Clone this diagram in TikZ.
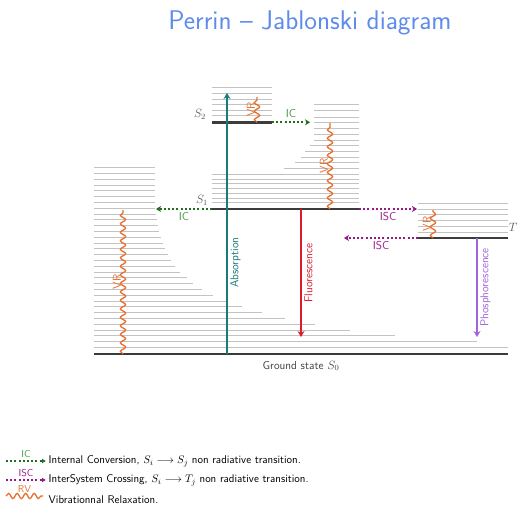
\documentclass[tikz,border=0pt]{standalone}
\usepackage{fontspec}
\usetikzlibrary{arrows.meta,decorations.pathmorphing}

\definecolor{levelgray}{RGB}{60,60,60}
\definecolor{subgray}{RGB}{195,195,195}
\definecolor{labelgray}{RGB}{85,85,85}
\definecolor{absorbcol}{RGB}{25,122,122}
\definecolor{fluocol}{RGB}{218,28,44}
\definecolor{phoscol}{RGB}{160,100,220}
\definecolor{icarrow}{RGB}{30,110,30}
\definecolor{iclabel}{RGB}{70,150,70}
\definecolor{isccol}{RGB}{150,25,135}
\definecolor{vrcol}{RGB}{230,110,45}
\definecolor{titleblue}{RGB}{95,140,235}

\begin{document}
\begin{tikzpicture}[x=1pt,y=-1pt,
  every node/.style={font=\sffamily\fontsize{11.5}{13}\selectfont, inner sep=1.5pt},
  lvl/.style={draw=levelgray, line width=2.6pt},
  sublvl/.style={draw=subgray, line width=0.9pt},
  vr/.style={draw=vrcol, line width=1.3pt, decorate,
    decoration={snake, amplitude=2.6pt, segment length=8.5pt}},
  vrlabel/.style={text=vrcol, rotate=90, anchor=south},
  ic/.style={draw=icarrow, line width=2pt, dash pattern=on 2pt off 2.2pt,
    -{Stealth[length=5pt,width=6pt,inset=1.5pt]}},
  isc/.style={draw=isccol, line width=2pt, dash pattern=on 2pt off 2.2pt,
    -{Stealth[length=5pt,width=6pt,inset=1.5pt]}},
  radiative/.style={line width=1.8pt, -{Stealth[length=6pt,width=7pt,inset=2pt]}},
  radlabel/.style={rotate=90, anchor=north, inner sep=2.5pt},
  statelabel/.style={text=labelgray, font=\fontsize{11.5}{13}\selectfont},
  legendtext/.style={anchor=west, font=\sffamily\fontsize{11.2}{13}\selectfont},
  legendtag/.style={font=\sffamily\fontsize{10}{11}\selectfont, inner sep=1pt}
]
\useasboundingbox (0,0) rectangle (518,509);

% title
\node[text=titleblue, font=\sffamily\fontsize{27}{30}\selectfont] (title) at (310,23) {Perrin -- Jablonski diagram};

% vibrational sub-levels of the ground state (right ends follow the potential curve)
\foreach \k/\xe in {1/508,2/477,3/395,4/350,5/315,6/285,7/262,8/242,9/227,10/213,
  11/202,12/193,13/187,14/180,15/175,16/171,17/168,18/165,19/163,20/161,
  21/159,22/158,23/157,24/156,25/155,26/155,27/155,28/155,29/155,30/155,31/155,32/155}
  \draw[sublvl] (94,{347.5-5.8*(\k-1)}) -- (\xe,{347.5-5.8*(\k-1)});

% vibrational sub-levels of S1
\foreach \y/\xs in {202.7/212,198/212,193.3/212,188.7/212,183.7/212,179/212,174.3/212,
  168.3/284,162.7/295,157/301,151.3/305,145.7/310,140/314,134.3/314,128.6/314,
  122.9/314,117.2/314,110.8/314,104.5/314}
  \draw[sublvl] (\xs,\y) -- (359,\y);

% vibrational sub-levels of S2
\foreach \y in {87.3,93.3,99,104.3,110,115.7}
  \draw[sublvl] (212,\y) -- (272,\y);

% vibrational sub-levels of T
\foreach \y in {203.3,209,214.7,220.3,226,232}
  \draw[sublvl] (418,\y) -- (508,\y);

% electronic levels
\coordinate (S0a) at (94,354);   \coordinate (S0b) at (508,354);
\coordinate (S1a) at (212,209);  \coordinate (S1b) at (359,209);
\coordinate (S2a) at (212,122.3);\coordinate (S2b) at (272,122.3);
\coordinate (Ta)  at (418,238);  \coordinate (Tb)  at (508,238);

\draw[lvl] (S0a) -- (S0b) node[midway, below=4pt, text=black!75] (gs) {Ground state $S_0$};
\draw[lvl] (S1a) -- (S1b);
\draw[lvl] (S2a) -- (S2b);
\draw[lvl] (Ta) -- (Tb);

\node[statelabel] (lS2) at (200,114) {$S_2$};
\node[statelabel] (lS1) at (202,200) {$S_1$};
\node[statelabel] (lT)  at (513,227) {$T$};

% internal conversions
\coordinate (ic1) at (310,122.3);
\coordinate (ic2) at (156,209);
\draw[ic] (S2b) -- (ic1) node[midway, above=2pt, text=iclabel] {IC};
\draw[ic] (S1a) -- (ic2) node[midway, below=1pt, text=iclabel] {IC};

% intersystem crossings
\coordinate (isc1) at (417,209);
\coordinate (isc2) at (344,238);
\draw[isc] (S1b) -- (isc1) node[midway, below=1pt, text=isccol] {ISC};
\draw[isc] (Ta) -- (isc2) node[midway, below=1pt, text=isccol] {ISC};

% radiative transitions
\coordinate (absA) at (227,354);  \coordinate (absB) at (227,93);
\coordinate (fluA) at (301,209);  \coordinate (fluB) at (301,337);
\coordinate (phoA) at (477,238);  \coordinate (phoB) at (477,337);
\draw[radiative, draw=absorbcol] (absA) -- (absB)
  node[pos=0.35, radlabel, text=absorbcol] {Absorption};
\draw[radiative, draw=fluocol] (fluA) -- (fluB)
  node[midway, radlabel, text=fluocol] {Fluorescence};
\draw[radiative, draw=phoscol] (phoA) -- (phoB)
  node[midway, radlabel, text=phoscol] {Phosphorescence};

% vibrational relaxations
\coordinate (vr2a) at (257,122.3); \coordinate (vr2b) at (257,97);
\coordinate (vr1a) at (330,209);   \coordinate (vr1b) at (330,123);
\coordinate (vr0a) at (123,354);   \coordinate (vr0b) at (123,210);
\coordinate (vrTa) at (433,238);   \coordinate (vrTb) at (433,210);
\draw[vr] (vr2a) -- (vr2b) node[midway, vrlabel] {VR};
\draw[vr] (vr1a) -- (vr1b) node[midway, vrlabel] {VR};
\draw[vr] (vr0a) -- (vr0b) node[midway, vrlabel] {VR};
\draw[vr] (vrTa) -- (vrTb) node[midway, vrlabel] {VR};

% legend
\coordinate (k1a) at (6,461);  \coordinate (k1b) at (46,461);
\coordinate (k2a) at (6,480);  \coordinate (k2b) at (46,480);
\coordinate (k3a) at (6,496);  \coordinate (k3b) at (43,496);
\draw[ic, -{Latex[length=4pt,width=5pt]}] (k1a) -- (k1b)
  node[midway, above=1pt, legendtag, text=iclabel] {IC};
\draw[isc, -{Latex[length=4pt,width=5pt]}] (k2a) -- (k2b)
  node[midway, above=1pt, legendtag, text=isccol] {ISC};
\draw[vr] (k3a) -- (k3b) node[midway, above=2pt, legendtag, text=vrcol] {RV};
\node[legendtext] (t1) at (47,461) {Internal Conversion, $S_i \longrightarrow S_j$ non radiative transition.};
\node[legendtext] (t2) at (47,480) {InterSystem Crossing, $S_i \longrightarrow T_j$ non radiative transition.};
\node[legendtext] (t3) at (47,500) {Vibrationnal Relaxation.};
\end{tikzpicture}
\end{document}
